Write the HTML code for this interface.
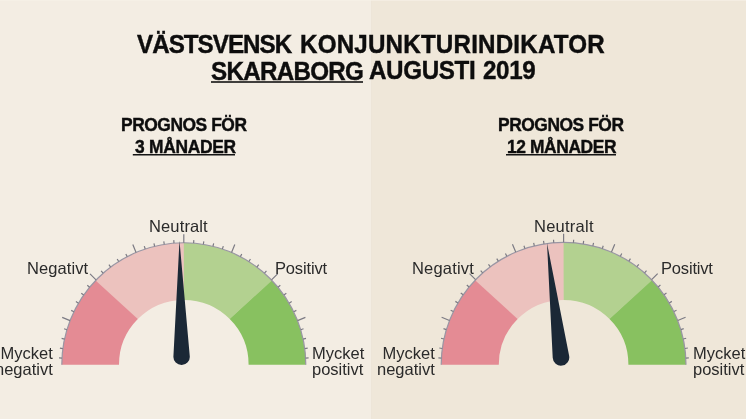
<!DOCTYPE html>
<html><head><meta charset="utf-8"><style>
html,body{margin:0;padding:0;width:746px;height:419px;overflow:hidden;background:#f3ede3}
svg{position:absolute;left:0;top:0}
.t{position:absolute;white-space:nowrap;font-family:"Liberation Sans",sans-serif;will-change:transform}
.h{font-weight:bold;color:#0d0d0d;-webkit-text-stroke:0.4px #0d0d0d}
.l{color:#2a2a2a;-webkit-text-stroke:0px #f3ede3}
.r{-webkit-text-stroke-color:#efe7d9}
</style></head><body>
<svg width="746" height="419" viewBox="0 0 746 419">
<rect x="0" y="0" width="372" height="419" fill="#f3ede3"/>
<rect x="372" y="0" width="374" height="419" fill="#efe7d9"/>
<rect x="371" y="0" width="1" height="419" fill="#ede5d8"/>
<rect x="0" y="0" width="746" height="1" fill="#f6f2e8" opacity="0.6"/>
<path d="M305.80,364.70A122.0,122.0 0 0 0 271.49,279.88L229.50,318.76A64.8,64.8 0 0 1 248.60,364.70Z" fill="#88c160"/>
<path d="M272.00,280.41A122.0,122.0 0 0 0 183.05,242.70L183.40,299.90A64.8,64.8 0 0 1 229.78,319.04Z" fill="#b3d190"/>
<path d="M183.80,242.70A122.0,122.0 0 0 0 95.08,280.95L137.54,319.32A64.8,64.8 0 0 1 183.80,299.90Z" fill="#ecc2be"/>
<path d="M95.60,280.41A122.0,122.0 0 0 0 61.80,364.70L119.00,364.70A64.8,64.8 0 0 1 137.82,319.04Z" fill="#e48b94"/>
<path d="M305.80,364.70A122.0,122.0 0 0 0 61.80,364.70" fill="none" stroke="#9a96a4" stroke-width="1.2"/>
<path d="M305.62,358.11L308.61,357.88M304.73,348.55L307.69,348.08M303.08,339.06L305.99,338.36M300.68,329.72L303.53,328.80M297.54,320.59L305.40,317.33M293.69,311.71L296.36,310.35M289.14,303.15L291.69,301.58M283.91,294.97L286.33,293.20M278.03,287.22L280.32,285.27M271.55,279.95L277.56,273.94M264.50,273.21L266.45,270.93M256.93,267.05L258.69,264.62M248.88,261.51L250.44,258.95M240.40,256.62L241.76,253.95M231.55,252.43L234.80,244.58M222.38,248.96L223.31,246.11M212.96,246.24L213.66,243.32M203.35,244.28L203.82,241.31M193.61,243.09L193.84,240.10M183.80,242.70L183.80,234.20M173.99,243.09L173.76,240.10M164.25,244.28L163.78,241.31M154.64,246.24L153.94,243.32M145.22,248.96L144.29,246.11M136.05,252.43L132.80,244.58M127.20,256.62L125.84,253.95M118.72,261.51L117.16,258.95M110.67,267.05L108.91,264.62M103.10,273.21L101.15,270.93M96.05,279.95L90.04,273.94M89.57,287.22L87.28,285.27M83.69,294.97L81.27,293.20M78.46,303.15L75.91,301.58M73.91,311.71L71.24,310.35M70.06,320.59L62.20,317.33M66.92,329.72L64.07,328.80M64.52,339.06L61.61,338.36M62.87,348.55L59.91,348.08M61.98,358.11L58.99,357.88" stroke="#7c7b84" stroke-width="1.2" fill="none"/>
<path d="M179.50,240.80L189.77,356.17A8.2,8.2 0 1 1 173.41,356.47Z" fill="#1b2836"/>
<path d="M686.00,364.70A122.4,122.4 0 0 0 651.57,279.60L609.30,318.76A64.8,64.8 0 0 1 628.40,364.70Z" fill="#88c160"/>
<path d="M652.09,280.14A122.4,122.4 0 0 0 562.85,242.30L563.20,299.90A64.8,64.8 0 0 1 609.58,319.04Z" fill="#b3d190"/>
<path d="M563.60,242.30A122.4,122.4 0 0 0 474.59,280.68L517.34,319.32A64.8,64.8 0 0 1 563.60,299.90Z" fill="#ecc2be"/>
<path d="M475.11,280.14A122.4,122.4 0 0 0 441.20,364.70L498.80,364.70A64.8,64.8 0 0 1 517.62,319.04Z" fill="#e48b94"/>
<path d="M686.00,364.70A122.4,122.4 0 0 0 441.20,364.70" fill="none" stroke="#9a96a4" stroke-width="1.2"/>
<path d="M685.82,358.08L688.81,357.85M684.92,348.48L687.88,348.02M683.27,338.97L686.18,338.27M680.86,329.60L683.71,328.67M677.71,320.43L685.57,317.18M673.85,311.53L676.52,310.16M669.28,302.94L671.83,301.37M664.03,294.73L666.46,292.97M658.14,286.96L660.42,285.01M651.64,279.66L657.65,273.65M644.56,272.90L646.51,270.62M636.96,266.72L638.73,264.30M628.89,261.16L630.45,258.61M620.38,256.27L621.74,253.59M611.50,252.06L614.75,244.21M602.30,248.58L603.23,245.73M592.85,245.85L593.55,242.93M583.21,243.88L583.68,240.92M573.44,242.70L573.67,239.71M563.60,242.30L563.60,233.80M553.76,242.70L553.53,239.71M543.99,243.88L543.52,240.92M534.35,245.85L533.65,242.93M524.90,248.58L523.97,245.73M515.70,252.06L512.45,244.21M506.82,256.27L505.46,253.59M498.31,261.16L496.75,258.61M490.24,266.72L488.47,264.30M482.64,272.90L480.69,270.62M475.56,279.66L469.55,273.65M469.06,286.96L466.78,285.01M463.17,294.73L460.74,292.97M457.92,302.94L455.37,301.37M453.35,311.53L450.68,310.16M449.49,320.43L441.63,317.18M446.34,329.60L443.49,328.67M443.93,338.97L441.02,338.27M442.28,348.48L439.32,348.02M441.38,358.08L438.39,357.85" stroke="#7c7b84" stroke-width="1.2" fill="none"/>
<path d="M547.00,243.00L569.14,355.70A8.3,8.3 0 1 1 552.71,357.71Z" fill="#1b2836"/>
<rect x="211" y="81.2" width="152" height="1.6" fill="#141414"/>
<rect x="132.8" y="154.0" width="102.2" height="1.5" fill="#141414"/>
<rect x="506" y="154.0" width="110" height="1.5" fill="#141414"/>
</svg>
<div class="t h" style="left:136.99px;top:30.14px;font-size:24.2px;letter-spacing:-0.979px;line-height:26px;transform:scaleY(1.085);transform-origin:0 0;">VÄSTSVENSK</div>
<div class="t h" style="left:299.61px;top:30.14px;font-size:24.2px;letter-spacing:0.184px;line-height:26px;transform:scaleY(1.085);transform-origin:0 0;">KONJUNKTURINDIKATOR</div>
<div class="t h" style="left:211.07px;top:56.63px;font-size:24.2px;letter-spacing:-0.704px;line-height:26px;transform:scaleY(1.085);transform-origin:0 0;">SKARABORG</div>
<div class="t h" style="left:368.91px;top:56.08px;font-size:24.2px;letter-spacing:-0.348px;line-height:26px;transform:scaleY(1.085);transform-origin:0 0;">AUGUSTI</div>
<div class="t h" style="left:482.65px;top:56.08px;font-size:24.2px;letter-spacing:-0.371px;line-height:26px;transform:scaleY(1.085);transform-origin:0 0;">2019</div>
<div class="t h" style="left:121.34px;top:115.74px;font-size:17.4px;letter-spacing:-0.447px;line-height:17px;transform:scaleY(1.07);transform-origin:0 0;">PROGNOS FÖR</div>
<div class="t h" style="left:134.64px;top:137.54px;font-size:17.4px;letter-spacing:-0.277px;line-height:17px;transform:scaleY(1.07);transform-origin:0 0;">3 MÅNADER</div>
<div class="t h" style="left:497.94px;top:115.74px;font-size:17.4px;letter-spacing:-0.446px;line-height:17px;transform:scaleY(1.07);transform-origin:0 0;">PROGNOS FÖR</div>
<div class="t h" style="left:506.94px;top:137.54px;font-size:17.4px;letter-spacing:-0.394px;line-height:17px;transform:scaleY(1.07);transform-origin:0 0;">12 MÅNADER</div>
<div class="t l" style="left:148.84px;top:217.5px;font-size:16.5px;letter-spacing:0.132px;line-height:16px;">Neutralt</div>
<div class="t l" style="left:27.04px;top:260px;font-size:16.5px;letter-spacing:0.084px;line-height:16px;">Negativt</div>
<div class="t l" style="left:274.84px;top:260.2px;font-size:16.5px;letter-spacing:-0.159px;line-height:16px;">Positivt</div>
<div class="t l" style="right:692.85px;top:344.6px;font-size:16.5px;letter-spacing:0px;line-height:16px;text-align:right;">Mycket<br>negativt</div>
<div class="t l" style="left:311.56px;top:344.6px;font-size:16.5px;letter-spacing:0px;line-height:16px;">Mycket<br>positivt</div>
<div class="t l r" style="left:534.06px;top:217.5px;font-size:16.5px;letter-spacing:0.249px;line-height:16px;">Neutralt</div>
<div class="t l r" style="left:412.06px;top:260px;font-size:16.5px;letter-spacing:0.196px;line-height:16px;">Negativt</div>
<div class="t l r" style="left:661.08px;top:260.16px;font-size:16.5px;letter-spacing:-0.178px;line-height:16px;">Positivt</div>
<div class="t l r" style="right:311.07px;top:344.6px;font-size:16.5px;letter-spacing:0px;line-height:16px;text-align:right;">Mycket<br>negativt</div>
<div class="t l r" style="left:693.2px;top:344.6px;font-size:16.5px;letter-spacing:0px;line-height:16px;">Mycket<br>positivt</div>
</body></html>
